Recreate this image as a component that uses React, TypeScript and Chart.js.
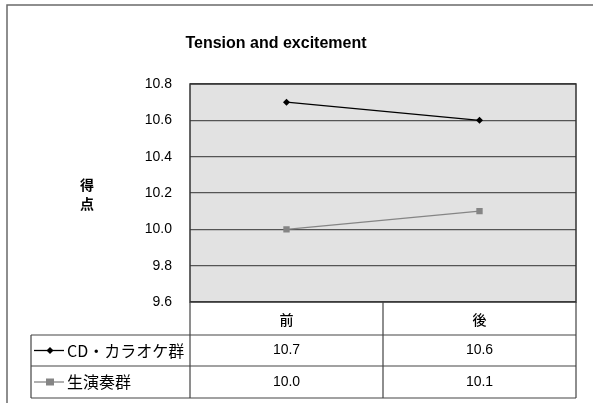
import React, { useEffect, useRef } from "react";
import { Chart, registerables } from "chart.js";

Chart.register(...registerables);

const categories = ["前", "後"];
const seriesNames = ["CD・カラオケ群", "生演奏群"];
const karaokeValues = [10.7, 10.6];
const liveValues = [10.0, 10.1];
const titleText = "Tension and excitement";
const axisLabel = ["得", "点"];

const FONT = "'Liberation Sans', Arial, sans-serif";
const JP_FONT = "'Noto Sans CJK JP', sans-serif";

const W = 593;
const H = 403;

const colors = ["#000000", "#858585"];
const markers: ("rectRot" | "rect")[] = ["rectRot", "rect"];
const markerSizes = [3.5, 4.5];

// Title, axis caption, outer frame and the data table under the plot.
const decorPlugin = {
  id: "decor",
  beforeDraw(chart: any) {
    const { ctx, chartArea } = chart;
    ctx.save();
    ctx.fillStyle = "#ffffff";
    ctx.fillRect(0, 0, W, H);
    ctx.fillStyle = "#e2e2e2";
    ctx.fillRect(chartArea.left, chartArea.top, chartArea.right - chartArea.left, chartArea.bottom - chartArea.top);
    ctx.restore();
  },
  afterDraw(chart: any) {
    const { ctx, chartArea, scales } = chart;
    const { left, right, top, bottom } = chartArea;
    ctx.save();

    // outer frame
    ctx.strokeStyle = "#6a6a6a";
    ctx.lineWidth = 1.5;
    ctx.beginPath();
    ctx.moveTo(W, 5);
    ctx.lineTo(7, 5);
    ctx.lineTo(7, H);
    ctx.stroke();

    // plot border
    ctx.strokeStyle = "#333333";
    ctx.lineWidth = 1.5;
    ctx.strokeRect(left, top, right - left, bottom - top);

    // title
    ctx.fillStyle = "#000";
    ctx.font = `bold 16px ${FONT}`;
    ctx.textAlign = "center";
    ctx.textBaseline = "middle";
    ctx.fillText(titleText, 276, 44);

    // vertical axis caption
    ctx.font = `bold 14px ${JP_FONT}`;
    axisLabel.forEach((ch, i) => ctx.fillText(ch, 87, 185 + i * 19));

    // data table
    const rowTops = [bottom, 335, 366, 398];
    const tableLeft = 31;
    const xs = categories.map((_, i) => scales.x.getPixelForValue(i));
    const mid = (xs[0] + xs[1]) / 2;
    ctx.strokeStyle = "#444444";
    ctx.lineWidth = 1.2;
    ctx.beginPath();
    [left, mid, right].forEach((x) => {
      ctx.moveTo(x, bottom);
      ctx.lineTo(x, rowTops[3]);
    });
    ctx.moveTo(tableLeft, rowTops[1]);
    ctx.lineTo(tableLeft, rowTops[3]);
    for (let r = 1; r <= 3; r++) {
      ctx.moveTo(tableLeft, rowTops[r]);
      ctx.lineTo(right, rowTops[r]);
    }
    ctx.stroke();

    ctx.fillStyle = "#000";
    ctx.textAlign = "center";
    ctx.font = `500 14px ${JP_FONT}`;
    categories.forEach((c, i) => ctx.fillText(c, xs[i], (rowTops[0] + rowTops[1]) / 2 + 1));

    const rows = [karaokeValues, liveValues];
    rows.forEach((vals, r) => {
      const cy = (rowTops[r + 1] + rowTops[r + 2]) / 2;
      ctx.font = `14px ${FONT}`;
      ctx.textAlign = "center";
      ctx.fillStyle = "#000";
      vals.forEach((v, i) => ctx.fillText(v.toFixed(1), xs[i], cy));

      // legend key: line with marker
      ctx.strokeStyle = colors[r];
      ctx.lineWidth = 1.3;
      ctx.beginPath();
      ctx.moveTo(34, cy);
      ctx.lineTo(64, cy);
      ctx.stroke();
      ctx.fillStyle = colors[r];
      if (markers[r] === "rectRot") {
        ctx.beginPath();
        ctx.moveTo(50, cy - 3.5);
        ctx.lineTo(53.5, cy);
        ctx.lineTo(50, cy + 3.5);
        ctx.lineTo(46.5, cy);
        ctx.closePath();
        ctx.fill();
      } else {
        ctx.fillRect(46, cy - 3.5, 8, 7);
      }

      ctx.fillStyle = "#000";
      ctx.textAlign = "left";
      ctx.font = `16px ${JP_FONT}`;
      ctx.fillText(seriesNames[r], 67, cy);
    });

    ctx.restore();
  },
};

export default function App() {
  const canvasRef = useRef<HTMLCanvasElement>(null);

  useEffect(() => {
    const canvas = canvasRef.current;
    if (!canvas) return;
    const chart = new Chart(canvas, {
      type: "line",
      data: {
        labels: categories,
        datasets: [karaokeValues, liveValues].map((vals, i) => ({
          label: seriesNames[i],
          data: vals,
          borderColor: colors[i],
          backgroundColor: colors[i],
          borderWidth: 1.3,
          pointStyle: markers[i],
          pointRadius: markerSizes[i],
          pointBorderWidth: 0,
          tension: 0,
        })),
      },
      options: {
        responsive: false,
        animation: false,
        devicePixelRatio: 1,
        layout: { padding: { left: 0, right: 17, top: 84, bottom: 101 } },
        plugins: {
          legend: { display: false },
          title: { display: false },
          tooltip: { enabled: false },
        },
        scales: {
          x: {
            type: "category",
            offset: true,
            display: false,
          },
          y: {
            min: 9.6,
            max: 10.8,
            border: { display: false },
            grid: { color: "#555555", lineWidth: 1.2, drawTicks: false },
            ticks: {
              stepSize: 0.2,
              padding: 18,
              color: "#000",
              font: { family: FONT, size: 14 },
              callback: (v: any) => Number(v).toFixed(1),
            },
            afterFit: (s: any) => {
              s.width = 190;
            },
          },
        },
      },
      plugins: [decorPlugin],
    });
    return () => chart.destroy();
  }, []);

  return (
    <div style={{ position: "fixed", left: 0, top: 0, width: W, height: H }}>
      <canvas ref={canvasRef} width={W} height={H} style={{ width: W, height: H }} />
    </div>
  );
}
